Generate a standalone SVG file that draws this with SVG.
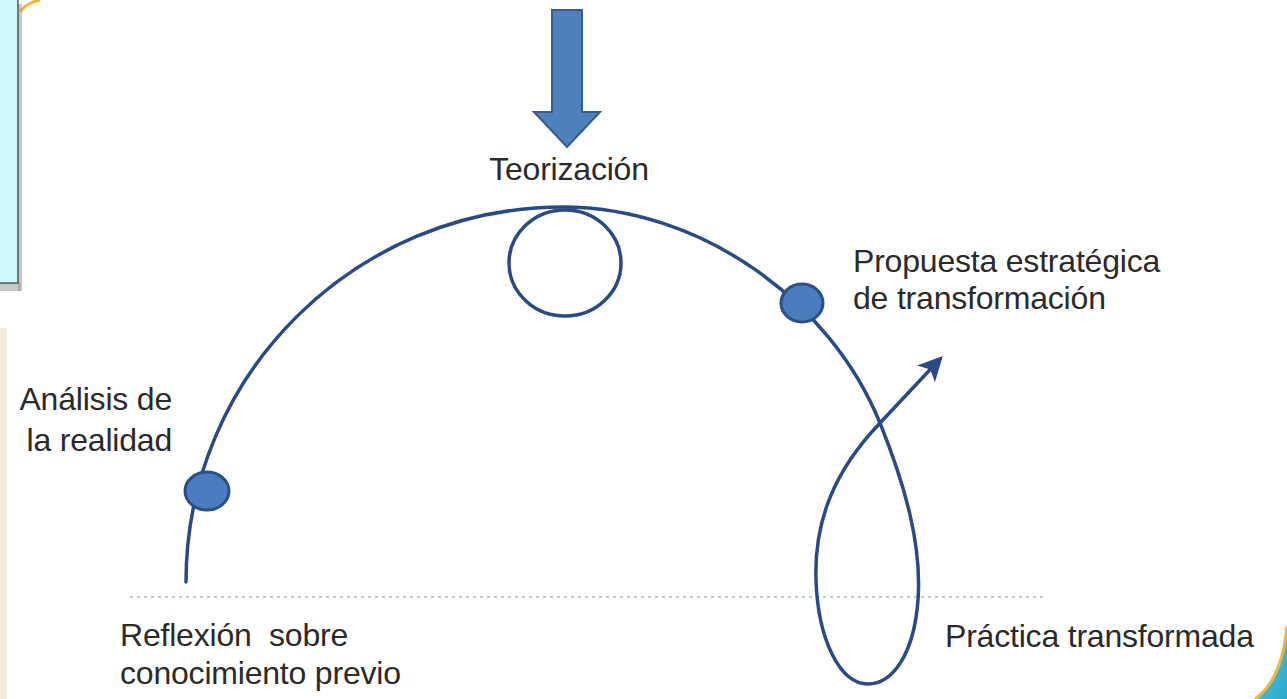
<svg xmlns="http://www.w3.org/2000/svg" width="1287" height="699" viewBox="0 0 1287 699">
<defs>
<style>
.lbl{font-family:"Liberation Sans",Arial,sans-serif;font-size:32px;fill:#2a2a2a;letter-spacing:-0.2px;white-space:pre}
.curve{fill:none;stroke:#2a4a85;stroke-width:3.5;stroke-linecap:round;stroke-linejoin:round}
.dot{fill:#4a7cbf;stroke:#2c4f88;stroke-width:3}
</style>
<marker id="ah" viewBox="0 0 12 12" refX="10" refY="6" markerWidth="7" markerHeight="7" orient="auto" markerUnits="strokeWidth">
<path d="M0,0 L12,6 L0,12 L3,6 Z" fill="#2a4a85"/>
</marker>
<linearGradient id="cy" x1="0" y1="0" x2="1" y2="1">
<stop offset="0" stop-color="#5fcbe6"/>
<stop offset="1" stop-color="#2aa7cc"/>
</linearGradient>
</defs>
<rect width="1287" height="699" fill="#ffffff"/>

<g id="frame">
<path d="M20,12 Q26,3 40,0" fill="none" stroke="#f0b73c" stroke-width="3"/>
<rect x="0" y="283" width="21" height="8" fill="#9a9a9a" opacity="0.55"/>
<rect x="18" y="4" width="4" height="287" fill="#9a9a9a" opacity="0.55"/>
<rect x="0" y="0" width="18" height="283" fill="#cdf8fc"/>
<path d="M18,0 L18,283 L0,283" fill="none" stroke="#555" stroke-width="1.5"/>
<rect x="0" y="328" width="7" height="371" fill="#f2ebd5"/>
<path d="M1287,626 Q1282,680 1255,699 L1287,699 Z" fill="url(#cy)"/>
<path d="M1287,626 Q1282,680 1255,699" fill="none" stroke="#f0b73c" stroke-width="3"/>
</g>

<g id="baseline">
<line x1="130" y1="597" x2="1045" y2="597" stroke="#b5b5b5" stroke-width="1.5" stroke-dasharray="3 4"/>
</g>

<g id="connectors">
<path class="curve" d="M186,582 C186,375 355,207 563,207 C700,207 830,300 880,423 C905,485 922,545 918,600 C914,655 892,684 868,684 C840,684 818,640 816,580 C814,520 835,470 880,423"/>
<path class="curve" d="M880,423 L940,359" marker-end="url(#ah)"/>
</g>

<g id="teorizacion">
<path d="M552,10 L582,10 L582,112 L600,112 L567,147 L534,112 L552,112 Z" fill="#4f81bd" stroke="#385d8a" stroke-width="2"/>
<text class="lbl" x="569" y="180" text-anchor="middle">Teorización</text>
<ellipse cx="565" cy="263" rx="56" ry="53" fill="none" stroke="#2a4a85" stroke-width="3.5"/>
</g>

<g id="analisis">
<ellipse class="dot" cx="207" cy="491" rx="22" ry="19"/>
<text class="lbl" x="172" y="410" text-anchor="end">Análisis de</text>
<text class="lbl" x="172" y="451" text-anchor="end">la realidad</text>
</g>

<g id="propuesta">
<ellipse class="dot" cx="802" cy="303" rx="21" ry="19"/>
<text class="lbl" x="853" y="272">Propuesta estratégica</text>
<text class="lbl" x="853" y="309">de transformación</text>
</g>

<g id="reflexion">
<text class="lbl" x="120" y="646">Reflexión  sobre</text>
<text class="lbl" x="120" y="684">conocimiento previo</text>
</g>

<g id="practica">
<text class="lbl" x="945" y="647">Práctica transformada</text>
</g>
</svg>
